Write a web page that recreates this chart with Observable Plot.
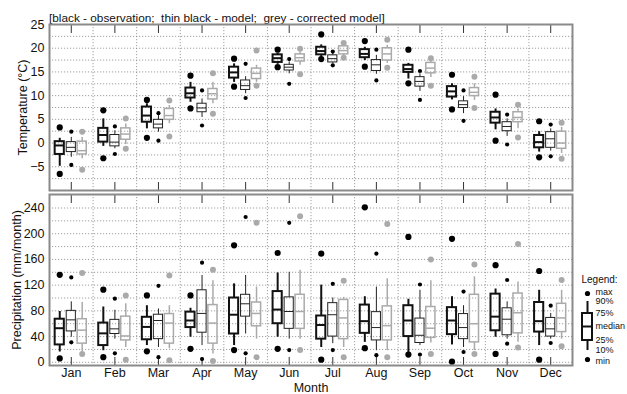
<!DOCTYPE html>
<html>
<head>
<meta charset="utf-8">
<script src="https://cdn.jsdelivr.net/npm/d3@7"></script>
<script src="https://cdn.jsdelivr.net/npm/@observablehq/plot@0.6"></script>
<style>
  html, body { margin: 0; padding: 0; background: #fff; }
  #chart { position: relative; width: 627px; height: 394px; overflow: hidden; font-family: "Liberation Sans", Arial, sans-serif; color: #111; }
  #title { position: absolute; left: 49px; top: 11px; font-size: 11.8px; white-space: pre; line-height: 14px; }
  .panel { position: absolute; left: 0; }
</style>
</head>
<body>
<div id="chart">
  <div id="title">[black - observation;  thin black - model;  grey - corrected model]</div>
</div>
<script>
// Month categories
const months = ["Jan","Feb","Mar","Apr","May","Jun","Jul","Aug","Sep","Oct","Nov","Dec"];

// Each row: [min, p10, p25, median, p75, p90, max]
// Temperature (°C)
const tempObs = [
  [-6.5,-4.9,-2.4,-0.5,0.3,1.0,3.3],
  [-3.2,-0.7,0.2,1.7,3.1,5.1,6.9],
  [1.1,3.0,4.4,5.8,7.6,8.3,9.1],
  [7.3,8.6,9.5,10.5,11.6,12.8,14.2],
  [11.9,12.8,13.7,14.9,16.0,16.7,17.8],
  [16.0,16.6,17.0,17.9,18.6,18.9,19.7],
  [17.7,18.1,18.6,19.4,20.2,20.7,22.9],
  [16.1,17.4,18.0,18.8,19.7,20.2,21.5],
  [12.6,13.5,14.9,15.6,16.4,16.8,19.7],
  [7.1,9.1,9.7,10.9,11.9,12.5,14.4],
  [0.5,2.8,4.2,5.4,6.5,7.2,10.2],
  [-3.0,-1.9,-1.0,0.2,1.6,2.4,4.6]
];
const tempModel = [
  [-4.6,-3.0,-1.9,-0.9,0.2,1.2,2.4],
  [-2.3,-1.2,-0.7,0.2,1.7,2.6,3.5],
  [0.5,2.3,3.1,4.0,4.9,5.8,6.3],
  [3.7,5.4,6.5,7.4,8.3,9.3,11.1],
  [9.5,10.4,11.2,12.1,13.2,14.0,16.7],
  [12.5,14.6,15.3,16.0,16.5,17.1,17.7],
  [16.4,16.7,17.0,17.8,18.5,18.9,19.3],
  [13.2,14.5,15.2,16.5,17.5,18.5,19.7],
  [9.1,10.9,11.9,13.0,13.9,14.6,15.2],
  [4.7,6.2,7.4,8.1,8.8,9.8,11.1],
  [-0.3,1.4,2.5,3.5,4.4,5.1,6.0],
  [-2.8,-1.7,-1.0,0.9,2.3,3.0,3.9]
];
const tempCorrected = [
  [-5.6,-3.3,-2.4,-1.6,0.3,1.2,2.4],
  [-1.2,-0.3,0.7,1.9,3.1,4.0,5.2],
  [1.4,4.1,4.9,5.8,7.2,7.9,9.0],
  [6.2,8.3,9.2,10.4,11.4,12.8,14.7],
  [12.1,12.8,13.5,14.7,15.7,16.4,19.5],
  [14.5,16.4,17.2,18.0,18.7,19.2,19.9],
  [18.0,18.2,18.7,19.5,20.4,20.9,21.1],
  [15.9,16.8,17.4,18.8,20.0,20.6,21.8],
  [12.1,13.8,14.7,15.8,16.9,17.4,17.9],
  [7.4,9.0,9.9,10.7,11.6,12.5,14.0],
  [1.2,3.0,4.4,5.4,6.5,7.2,8.1],
  [-3.3,-2.2,-1.2,0.0,2.4,3.3,4.3]
];
// Precipitation (mm/month)
const precObs = [
  [6,16,27,53,67,79,136],
  [8,18,26,45,61,86,113],
  [17,26,35,55,70,88,104],
  [21,39,54,65,78,84,104],
  [19,26,44,74,100,122,182],
  [21,39,60,82,110,139,170],
  [4,23,36,58,72,120,169],
  [22,31,45,64,89,102,241],
  [12,15,40,65,88,98,195],
  [1,27,43,65,85,102,192],
  [13,39,49,71,106,114,151],
  [4,26,47,64,93,112,142]
];
const precModel = [
  [31,39,48,66,80,94,132],
  [14,36,44,52,66,81,99],
  [8,23,36,65,74,83,119],
  [5,26,46,76,112,135,155],
  [14,44,71,91,105,135,226],
  [19,36,52,79,101,140,217],
  [19,29,40,74,92,100,122],
  [11,18,34,54,78,117,169],
  [12,26,30,42,68,112,121],
  [16,23,36,54,75,88,110],
  [29,36,42,67,84,94,128],
  [30,36,40,52,69,76,88]
];
const precCorrected = [
  [13,16,29,50,67,93,139],
  [4,23,34,41,71,91,104],
  [3,21,29,61,75,88,135],
  [2,13,29,61,89,127,144],
  [8,36,56,76,93,117,217],
  [19,36,52,79,105,143,227],
  [8,23,36,69,97,101,127],
  [8,18,34,57,87,130,215],
  [13,30,38,53,86,127,160],
  [13,18,31,60,105,133,152],
  [23,31,45,77,107,125,184],
  [25,36,47,69,91,112,128]
];
// Tick values
const tempTicks = [-5, 0, 5, 10, 15, 20, 25];
const precTicks = [0, 40, 80, 120, 160, 200, 240];
// Legend sample statistics (min, p10, p25, median, p75, p90, max) and labels
const legendStats = [0, 9, 19, 33, 46, 58, 66];
const legendLabels = ["min", "10%", "25%", "median", "75%", "90%", "max"];
const legendLabelAt = [-1.5, 9, 19.5, 33, 46.5, 58, 67.5];

// ---------- build tables ----------
const toRows = (arr) => arr.map((v, i) => ({m: i + 1, min: v[0], p10: v[1], q1: v[2], med: v[3], q3: v[4], p90: v[5], max: v[6]}));

const styles = {
  obs:   {off: -0.265, stroke: "#111", sw: 2,   r: 3.1, fill: "#000", hw: 0.105},
  model: {off: 0,      stroke: "#222", sw: 1,   r: 2.1, fill: "#000", hw: 0.105},
  corr:  {off: 0.25,   stroke: "#aaa", sw: 1.5, r: 3.0, fill: "#aaa", hw: 0.105}
};

function boxMarks(data, st) {
  const xp = d => d.m + st.off;
  const hw = st.hw;
  const common = {stroke: st.stroke, strokeWidth: st.sw};
  return [
    Plot.ruleX(data, {x: xp, y1: "p10", y2: "q1", ...common}),
    Plot.ruleX(data, {x: xp, y1: "q3", y2: "p90", ...common}),
    Plot.rect(data, {x1: d => xp(d) - hw, x2: d => xp(d) + hw, y1: "q1", y2: "q3", fill: "none", ...common}),
    Plot.ruleY(data, {y: "med", x1: d => xp(d) - hw, x2: d => xp(d) + hw, ...common}),
    Plot.dot(data, {x: xp, y: "max", r: st.r, fill: st.fill, stroke: "none"}),
    Plot.dot(data, {x: xp, y: "min", r: st.r, fill: st.fill, stroke: "none"})
  ];
}

const W = 627, ML = 49, MR = 55;
const monthIdx = d3.range(1, 13);
const boundaries = d3.range(1.5, 12, 1);
const font = {fontFamily: "'Liberation Sans', Arial, sans-serif", fontSize: "12.5px", background: "transparent", overflow: "visible", color: "#111"};

function panel({height, marginTop, marginBottom, yDomain, yTicks, gridTicks, ylabel, labelDx, datasets, bottomAxis}) {
  const fh = height - marginTop - marginBottom;
  const marks = [
    Plot.gridY({ticks: gridTicks, stroke: "#888", strokeOpacity: 1, strokeWidth: 0.8, strokeDasharray: "1.2,1.8"}),
    Plot.gridX({ticks: boundaries, stroke: "#888", strokeOpacity: 1, strokeWidth: 0.8, strokeDasharray: "1.2,1.8"}),
    Plot.ruleX(monthIdx, {x: d => d, insetTop: fh - 8, stroke: "#333", strokeWidth: 1}),
    Plot.ruleX(monthIdx, {x: d => d, insetBottom: fh - 9, stroke: "#333", strokeWidth: 1}),
    Plot.axisY({ticks: yTicks, tickSize: 0, tickPadding: 5, label: null, fontSize: 12.5}),
    Plot.text([ylabel], {text: d => d, frameAnchor: "left", rotate: -90, dx: labelDx, textAnchor: "middle", lineAnchor: "middle", fontSize: 12.5}),
    ...boxMarks(toRows(datasets[0]), styles.obs),
    ...boxMarks(toRows(datasets[1]), styles.model),
    ...boxMarks(toRows(datasets[2]), styles.corr),
    Plot.frame({stroke: "#8a8a8a", strokeWidth: 2})
  ];
  if (bottomAxis) {
    marks.push(Plot.axisX({ticks: monthIdx, tickFormat: i => months[i - 1], tickSize: 0, tickPadding: 3, label: null, fontSize: 12.5}));
    marks.push(Plot.text(["Month"], {text: d => d, frameAnchor: "bottom", dy: 22, lineAnchor: "middle", fontSize: 12.5}));
  } else {
    marks.push(Plot.axisX({ticks: [], label: null}));
  }
  return Plot.plot({
    width: W, height, marginLeft: ML, marginRight: MR, marginTop, marginBottom,
    style: font,
    x: {type: "linear", domain: [0.5, 12.5]},
    y: {type: "linear", domain: yDomain},
    marks
  });
}

const topPanel = panel({
  height: 192, marginTop: 24, marginBottom: 2,
  yDomain: [-10, 25], yTicks: tempTicks, gridTicks: d3.range(-7.5, 25, 2.5),
  ylabel: "Temperature (°C)", labelDx: -27,
  datasets: [tempObs, tempModel, tempCorrected], bottomAxis: false
});
topPanel.classList.add("panel"); topPanel.style.top = "0px";

const bottomPanel = panel({
  height: 202, marginTop: 2, marginBottom: 29,
  yDomain: [-5, 261], yTicks: precTicks, gridTicks: d3.range(0, 260, 20),
  ylabel: "Precipitation (mm/month)", labelDx: -33,
  datasets: [precObs, precModel, precCorrected], bottomAxis: true
});
bottomPanel.classList.add("panel"); bottomPanel.style.top = "192px";

// Legend
const legRow = [{m: 0, min: legendStats[0], p10: legendStats[1], q1: legendStats[2], med: legendStats[3], q3: legendStats[4], p90: legendStats[5], max: legendStats[6]}];
const legStyle = {off: 0, stroke: "#111", sw: 2, r: 2.6, fill: "#000", hw: 5};
const legendPlot = Plot.plot({
  width: 55, height: 96, marginLeft: 0, marginRight: 0, marginTop: 25, marginBottom: 5,
  style: {...font, fontSize: "9px"},
  x: {type: "linear", domain: [-15, 40], range: [0, 55], axis: null},
  y: {type: "linear", domain: [0, 66], axis: null},
  marks: [
    ...boxMarks(legRow, legStyle),
    Plot.text(legendLabels, {x: 8, y: (d, i) => legendLabelAt[i], text: d => d, textAnchor: "start", fontSize: 9}),
    Plot.text(["Legend:"], {text: d => d, frameAnchor: "top-left", dx: 9, dy: -14, textAnchor: "start", lineAnchor: "middle", fontSize: 10})
  ]
});
legendPlot.classList.add("panel");
legendPlot.style.left = "572px"; legendPlot.style.top = "268px";

const chart = document.getElementById("chart");
chart.appendChild(topPanel);
chart.appendChild(bottomPanel);
chart.appendChild(legendPlot);
</script>
</body>
</html>
